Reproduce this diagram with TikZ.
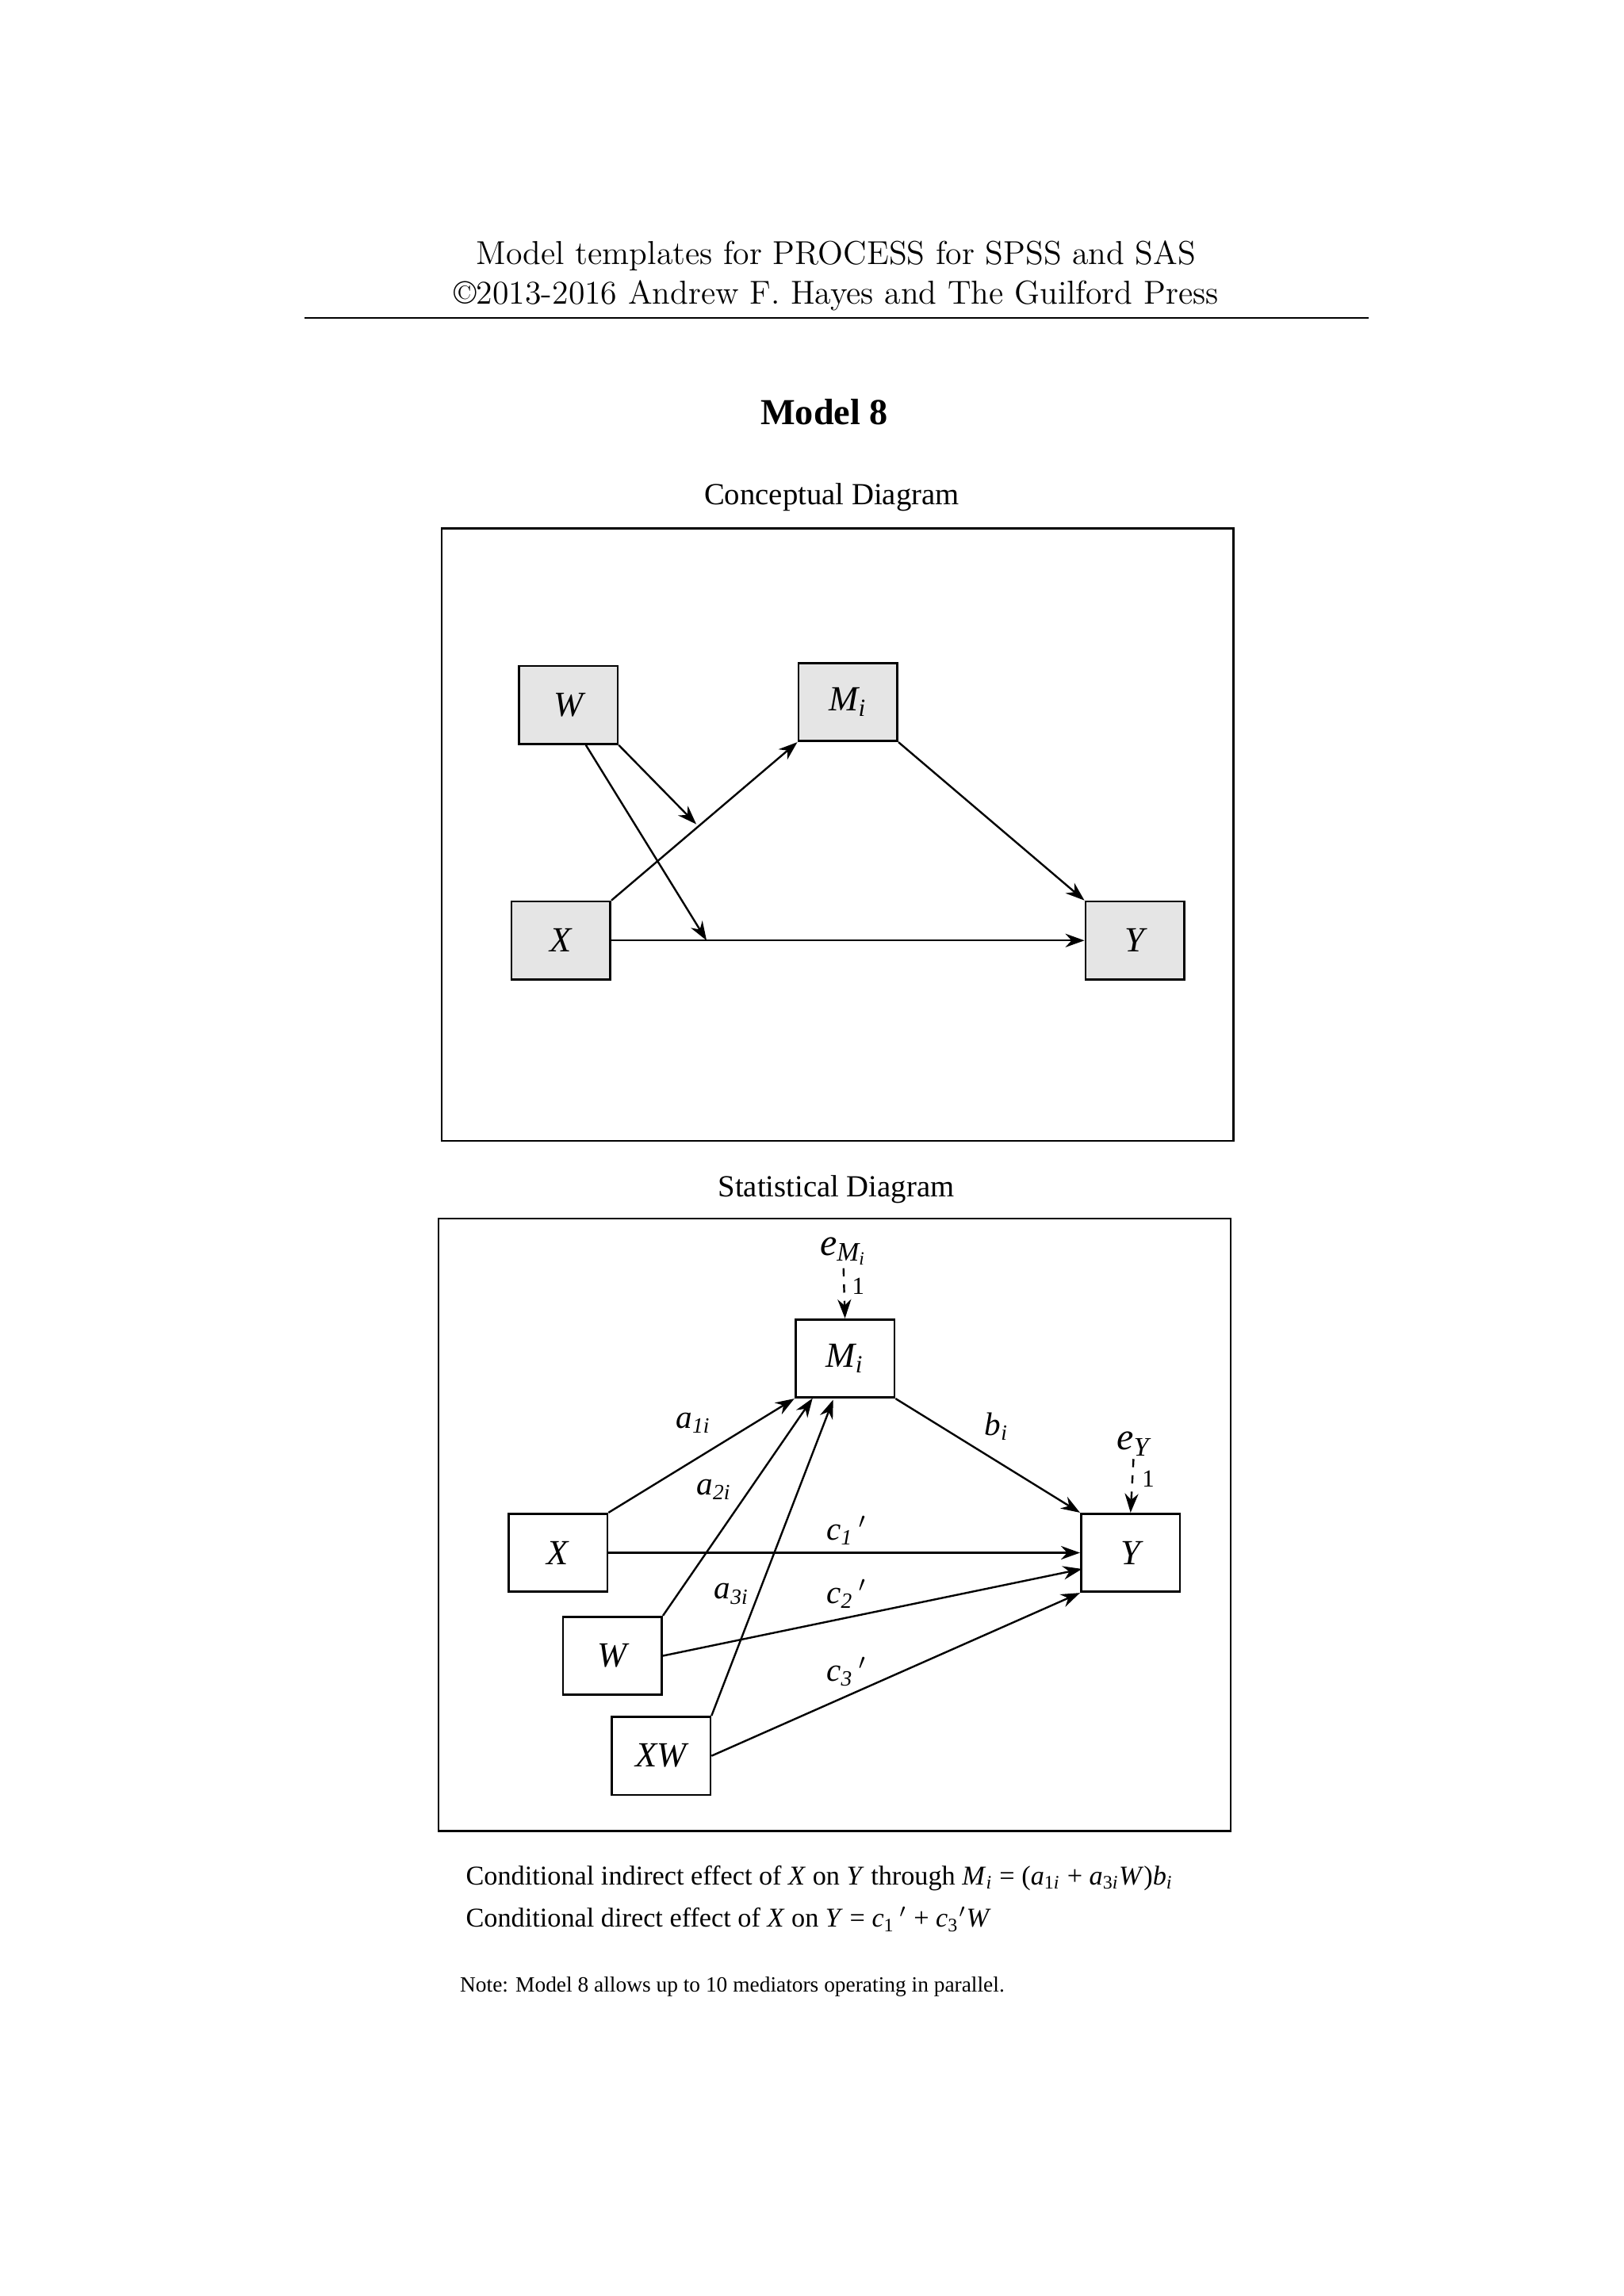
\documentclass[tikz,border=0pt]{standalone}
\usepackage{fontspec}
\setmainfont{Liberation Serif}
\newfontfamily\lmfont{Latin Modern Roman}
\usetikzlibrary{arrows.meta}
\newcommand{\iv}[2]{\textit{#1}\textsubscript{\textit{#2}}}
\newcommand{\ivn}[2]{\textit{#1}\textsubscript{#2\textit{i}}}
\tikzset{
  box/.style={draw,line width=0.8pt,minimum width=1.28cm,minimum height=1.01cm,inner sep=0pt,font=\fontsize{13}{15}\selectfont\itshape},
  gbox/.style={box,fill=gray!20},
  arr/.style={-{Stealth[length=7pt,width=5pt]},line width=0.7pt},
  err/.style={arr,dashed},
  lab/.style={font=\fontsize{12}{14}\selectfont\itshape}
}
\begin{document}
\begin{tikzpicture}[x=0.01904cm,y=-0.01904cm]
\useasboundingbox (0,0) rectangle (1103,1560);
% header
\node[font=\lmfont\fontsize{12.2}{15}\selectfont] at (568,174) {Model templates for PROCESS for SPSS and SAS};
\node[font=\lmfont\fontsize{12.2}{15}\selectfont] at (568,201) {\textcopyright2013-2016 Andrew F. Hayes and The Guilford Press};
\draw[line width=0.5pt] (207,216) -- (930,216);
\node[font=\fontsize{13.5}{16}\selectfont\bfseries] at (560,280) {Model 8};

% conceptual diagram
\node[font=\fontsize{11.3}{14}\selectfont] at (565,338) {Conceptual Diagram};
\draw[line width=0.7pt] (300,359) rectangle (838,775);
\node[gbox] (cw) at (386,479) {W};
\node[gbox] (cm) at (576,477) {\iv{M}{i}};
\node[gbox] (cx) at (381,639) {X};
\node[gbox] (cy) at (771,639) {Y};
\coordinate (ca) at (473,560);
\coordinate (cc) at (480,639);
\draw[arr] (cx.north east) -- (cm.south west);
\draw[arr] (cm.south east) -- (cy.north west);
\draw[arr] (cx.east) -- (cy.west);
\draw[arr] (cw.south east) -- (ca);
\draw[arr] (cw.south) ++(12,0) -- (cc);

% statistical diagram
\node[font=\fontsize{11.3}{14}\selectfont] at (568,808) {Statistical Diagram};
\draw[line width=0.7pt] (298,828) rectangle (836,1244);
\node[box] (sm) at (574,923) {\iv{M}{i}};
\node[box] (sx) at (379,1055) {X};
\node[box] (sw) at (416,1125) {W};
\node[box] (sxw) at (449,1193) {XW};
\node[box] (sy) at (768,1055) {Y};
\node[lab,font=\fontsize{14}{16}\selectfont\itshape,inner sep=1pt] (em) at (573,850) {e\textsubscript{\iv{M}{i}}};
\node[lab,font=\fontsize{14}{16}\selectfont\itshape,inner sep=1pt] (ey) at (770,981) {e\textsubscript{Y}};
\draw[err] (em.south) -- (sm.north);
\draw[err] (ey.south) -- (sy.north);
\node[font=\fontsize{9}{10}\selectfont] at (583,874) {1};
\node[font=\fontsize{9}{10}\selectfont] at (780,1005) {1};
\coordinate (m2) at (552,950);
\coordinate (m3) at (566,951);
\coordinate (y2) at (735,1066);
\draw[arr] (sx.north east) -- (sm.south west);
\draw[arr] (sw.north east) -- (m2);
\draw[arr] (sxw.north east) -- (m3);
\draw[arr] (sm.south east) -- (sy.north west);
\draw[arr] (sx.east) -- (sy.west);
\draw[arr] (sw.east) -- (y2);
\draw[arr] (sxw.east) -- (sy.south west);
\node[lab] at (471,967) {\ivn{a}{1}};
\node[lab] at (485,1012) {\ivn{a}{2}};
\node[lab] at (497,1083) {\ivn{a}{3}};
\node[lab] at (677,969) {\iv{b}{i}};
\node[lab] at (575,1040) {\textit{c}\textsubscript{1}\,$'$};
\node[lab] at (575,1083) {\textit{c}\textsubscript{2}\,$'$};
\node[lab] at (575,1136) {\textit{c}\textsubscript{3}\,$'$};

% equations and note
\node[anchor=west,font=\fontsize{10}{12}\selectfont] at (310,1276) {Conditional indirect effect of \textit{X} on \textit{Y} through \iv{M}{i} = (\ivn{a}{1} + \ivn{a}{3}\textit{W})\iv{b}{i}};
\node[anchor=west,font=\fontsize{10}{12}\selectfont] at (310,1304) {Conditional direct effect of \textit{X} on \textit{Y} = \textit{c}\textsubscript{1}\,$'$ + \textit{c}\textsubscript{3}$'$\textit{W}};
\node[anchor=west,font=\fontsize{8}{10}\selectfont] at (306,1350) {Note: Model 8 allows up to 10 mediators operating in parallel.};
\end{tikzpicture}
\end{document}
